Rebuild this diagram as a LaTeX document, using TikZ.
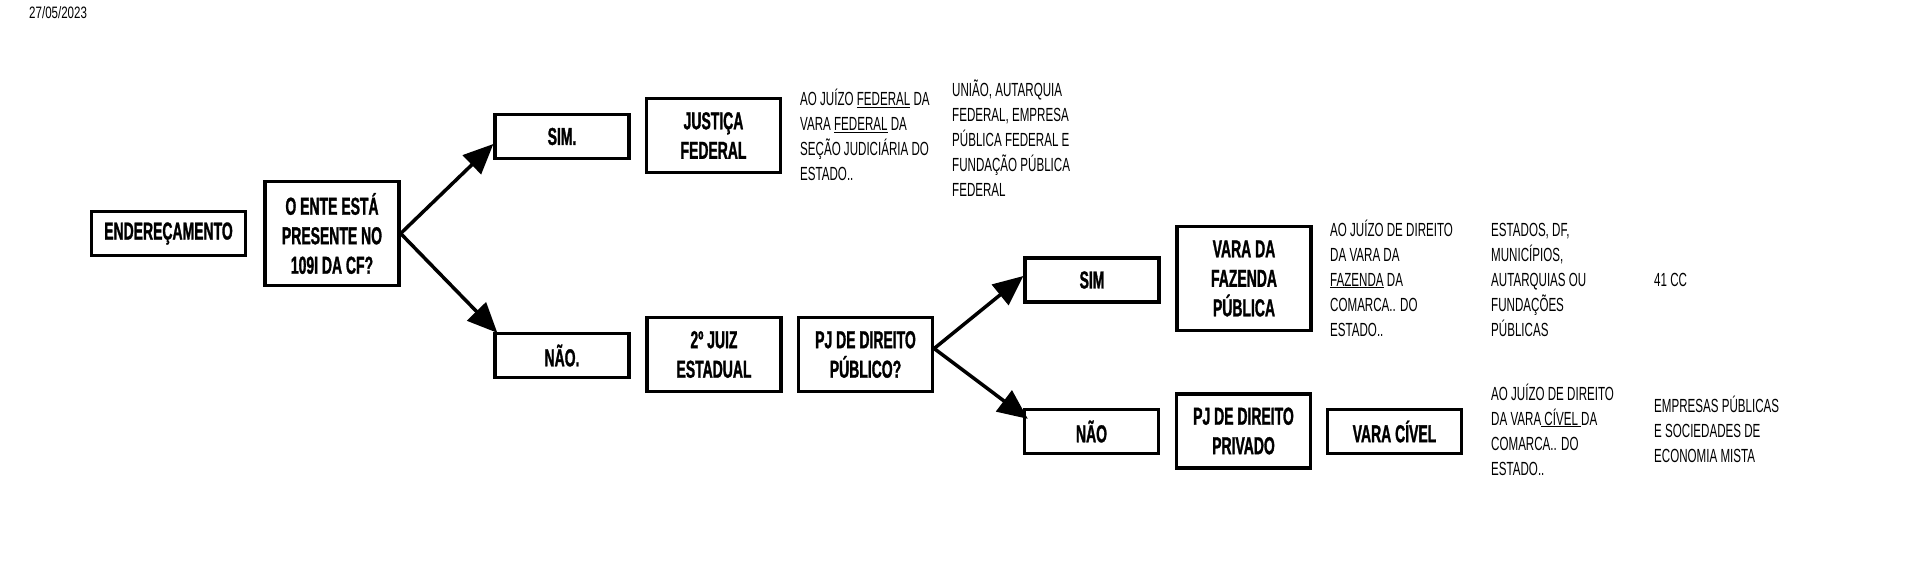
\documentclass[tikz,border=0pt]{standalone}
\usepackage{fontspec}
\newfontfamily\boxfont[FakeStretch=0.57,BoldFeatures={FakeBold=1.2}]{Liberation Sans}
\newfontfamily\notefont[FakeStretch=0.61]{Liberation Sans}
\newfontfamily\datefont[FakeStretch=0.7]{Liberation Sans}
\usetikzlibrary{arrows.meta}
\begin{document}
\begin{tikzpicture}[x=1pt,y=-1pt,
  box/.style={draw=black, line width=3.3pt, inner sep=0pt, minimum width=134pt,
    minimum height=44pt, align=center,
    font=\boxfont\bfseries\fontsize{24.5}{29.5}\selectfont},
  mid/.style={minimum height=74pt},
  tall/.style={minimum height=104pt},
  note/.style={anchor=base west, inner sep=0pt,
    font=\notefont\fontsize{19}{25}\selectfont},
  arr/.style={line width=3.5pt, -{Triangle[length=30pt,width=26pt]}}]
\fill[white] (0,0) rectangle (1920,566);
\useasboundingbox (0,0) rectangle (1920,566);

\node[anchor=base west, inner sep=0pt, font=\datefont\fontsize{16.5}{19}\selectfont] (date) at (29,18) {27/05/2023};

\node[box, minimum width=154pt] (end) at (168.5,233.5) {ENDEREÇAMENTO};
\node[box, tall] (ente) at (332,233.5) {O ENTE ESTÁ\\PRESENTE NO\\109I DA CF?};
\node[box] (sim1) at (562,136.5) {SIM.};
\node[box, mid] (jf) at (713.5,135.5) {JUSTIÇA\\FEDERAL};
\node[box] (nao1) at (562,355.5) {NÃO.};
\node[box, mid] (juiz) at (714,354.5) {2º JUIZ\\ESTADUAL};
\node[box, mid] (pjpub) at (865.5,354.5) {PJ DE DIREITO\\PÚBLICO?};
\node[box] (sim2) at (1092,280) {SIM};
\node[box, tall] (faz) at (1244,278.5) {VARA DA\\FAZENDA\\PÚBLICA};
\node[box] (nao2) at (1091.5,431.5) {NÃO};
\node[box, mid] (pjpriv) at (1243.5,431) {PJ DE DIREITO\\PRIVADO};
\node[box] (civel) at (1394.5,431.5) {VARA CÍVEL};

\draw[arr] (ente.east) -- ([yshift=-7.5pt]sim1.west);
\draw[arr] (ente.east) -- ([xshift=4pt,yshift=-1pt]nao1.north west);
\draw[arr] ([yshift=6pt]pjpub.east) -- ([yshift=4pt]sim2.west);
\draw[arr] ([yshift=6pt]pjpub.east) -- ([xshift=5pt,yshift=-11pt]nao2.north west);

\node[note] (n1) at (800,105.5) {\parbox[t]{200pt}{AO JUÍZO \underline{FEDERAL} DA\\VARA \underline{FEDERAL} DA\\SEÇÃO JUDICIÁRIA DO\\ESTADO..}};
\node[note] (n2) at (952,96.5) {\parbox[t]{200pt}{UNIÃO, AUTARQUIA\\FEDERAL, EMPRESA\\PÚBLICA FEDERAL E\\FUNDAÇÃO PÚBLICA\\FEDERAL}};
\node[note] (n3) at (1330,236) {\parbox[t]{200pt}{AO JUÍZO DE DIREITO\\DA VARA DA\\\underline{FAZENDA} DA\\COMARCA.. DO\\ESTADO..}};
\node[note] (n4) at (1491,236) {\parbox[t]{200pt}{ESTADOS, DF,\\MUNICÍPIOS,\\AUTARQUIAS OU\\FUNDAÇÕES\\PÚBLICAS}};
\node[note] (n5) at (1654,286.5) {41 CC};
\node[note] (n6) at (1491,400) {\parbox[t]{200pt}{AO JUÍZO DE DIREITO\\DA VARA\underline{\ CÍVEL\ }DA\\COMARCA.. DO\\ESTADO..}};
\node[note] (n7) at (1654,412) {\parbox[t]{200pt}{EMPRESAS PÚBLICAS\\E SOCIEDADES DE\\ECONOMIA MISTA}};
\end{tikzpicture}
\end{document}
